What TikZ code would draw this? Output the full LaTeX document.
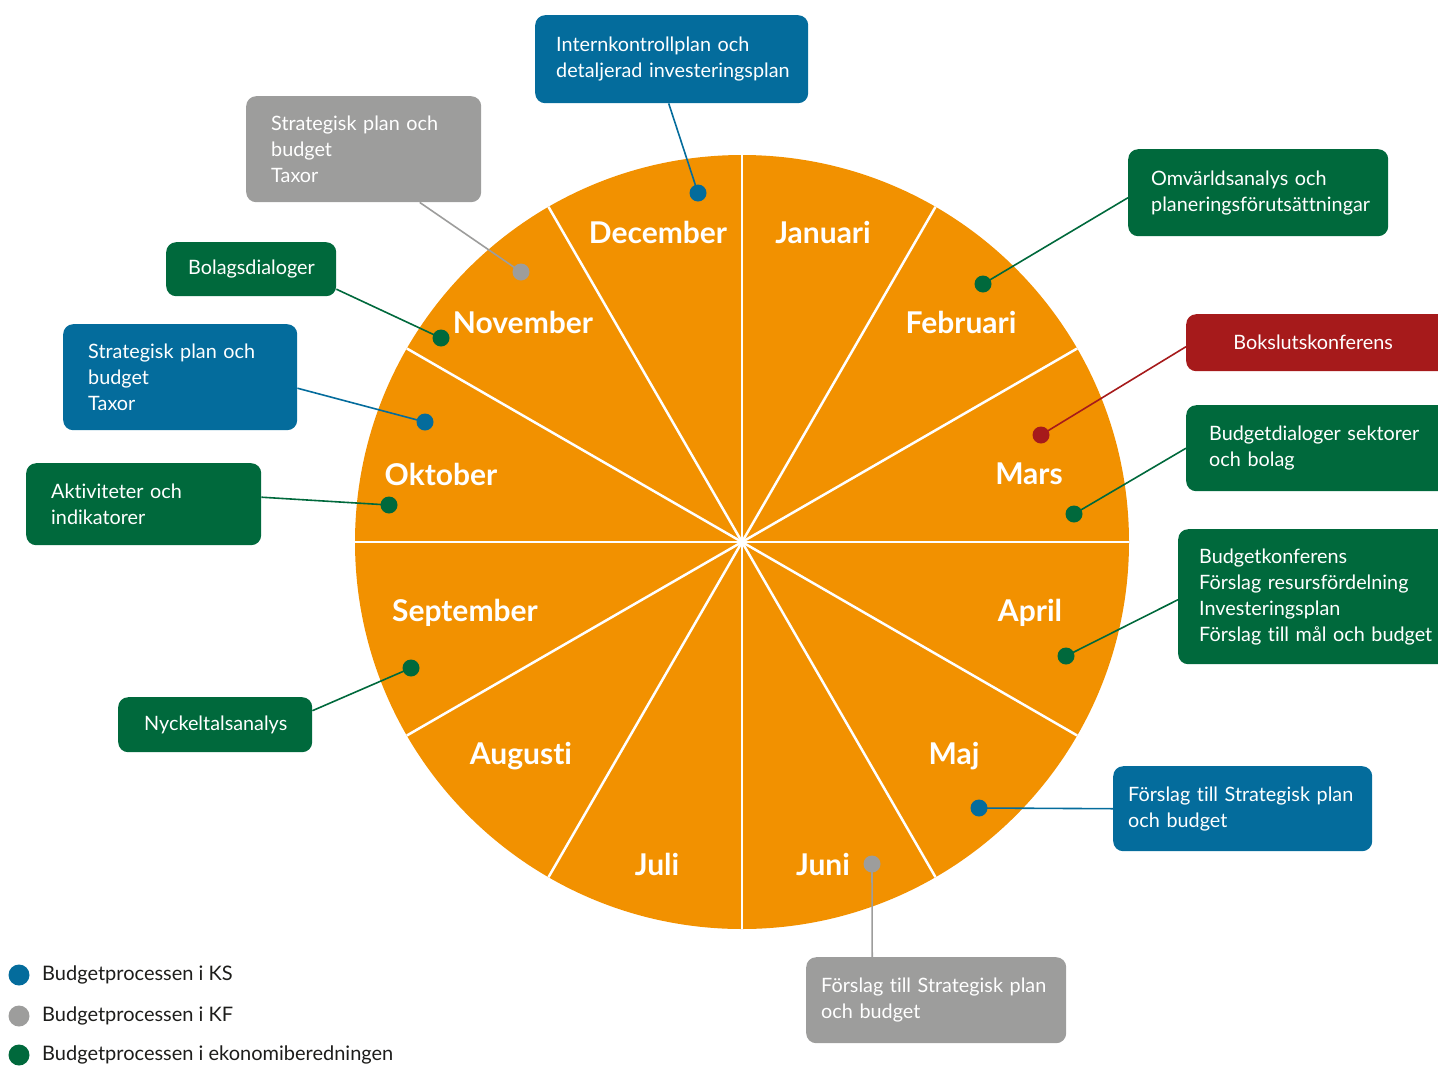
\documentclass[tikz,border=0pt]{standalone}
\usepackage{fontspec}
\setmainfont{Lato}[Ligatures=NoCommon]
\definecolor{wheelor}{HTML}{F29100}
\definecolor{ksblue}{HTML}{046C9C}
\definecolor{kfgrey}{HTML}{9D9D9C}
\definecolor{ekgreen}{HTML}{00693C}
\definecolor{bokred}{HTML}{A61A1B}
\definecolor{legtext}{HTML}{1D1D1B}
\newcommand{\bxl}[1]{\mbox{#1}}
\tikzset{
  infobox/.style={rounded corners=10pt, text=white, anchor=north west, align=left,
    font=\fontsize{19.8}{26}\selectfont, inner ysep=0pt},
  month/.style={text=white, font=\fontsize{30}{32}\selectfont\bfseries},
  evdot/.style={circle, inner sep=0pt, minimum size=17pt},
  conn/.style={line width=1.6pt},
  sector/.style={white, line width=2.5pt},
  legdot/.style={circle, inner sep=0pt, minimum size=21pt},
  legtxt/.style={anchor=west, text=legtext, font=\fontsize{20}{22}\selectfont, inner sep=0pt}
}
\begin{document}
\begin{tikzpicture}[x=1pt,y=-1pt]
\useasboundingbox (0,0) rectangle (1438,1066);
\coordinate (c) at (742,542);
\fill[wheelor] (c) circle (387pt);
\foreach \a in {0,30,...,150} {
  \draw[sector] (c) ++(\a:387pt) -- ++(\a+180:774pt);
}
% month labels
\node[month] (m1) at (823,232) {Januari};
\node[month] (m2) at (961,322) {Februari};
\node[month] (m3) at (1029,474) {Mars};
\node[month] (m4) at (1030,613) {April};
\node[month] (m5) at (954,756) {Maj};
\node[month] (m6) at (823,864) {Juni};
\node[month] (m7) at (657,864) {Juli};
\node[month] (m8) at (521,756) {Augusti};
\node[month] (m9) at (465,613) {September};
\node[month] (m10) at (441,474) {Oktober};
\node[month] (m11) at (523,322) {November};
\node[month] (m12) at (658,232) {December};
% boxes
\node[infobox, fill=ksblue, minimum width=273pt, minimum height=88pt, text width=231pt, inner xsep=21pt] (b1) at (535,15) {\bxl{Internkontrollplan och}\\\bxl{detaljerad investeringsplan}};
\node[infobox, fill=kfgrey, minimum width=235pt, minimum height=106pt, text width=185pt, inner xsep=25pt] (b2) at (246,96) {\bxl{Strategisk plan och}\\budget\\Taxor};
\node[infobox, fill=ekgreen, minimum width=170pt, minimum height=54pt, text width=126pt, inner xsep=22pt] (b3) at (166,242) {\bxl{Bolagsdialoger}};
\node[infobox, fill=ksblue, minimum width=234pt, minimum height=106pt, text width=184pt, inner xsep=25pt] (b4) at (63,324) {\bxl{Strategisk plan och}\\budget\\Taxor};
\node[infobox, fill=ekgreen, minimum width=235pt, minimum height=82pt, text width=185pt, inner xsep=25pt] (b5) at (26,463) {\bxl{Aktiviteter och}\\indikatorer};
\node[infobox, fill=ekgreen, minimum width=194pt, minimum height=55pt, text width=142pt, inner xsep=26pt] (b6) at (118,697) {\bxl{Nyckeltalsanalys}};
\node[infobox, fill=ekgreen, minimum width=260pt, minimum height=87pt, text width=214pt, inner xsep=23pt] (b7) at (1128,149) {\bxl{Omvärldsanalys och}\\\bxl{planeringsförutsättningar}};
\node[infobox, fill=bokred, minimum width=262pt, minimum height=57pt, text width=242pt, inner xsep=10pt, align=center] (b8) at (1186,314) {\hspace*{-8pt}\bxl{Bokslutskonferens}};
\node[infobox, fill=ekgreen, minimum width=262pt, minimum height=86pt, text width=216pt, inner xsep=23pt] (b9) at (1186,405) {\bxl{Budgetdialoger sektorer}\\\bxl{och bolag}};
\node[infobox, fill=ekgreen, minimum width=270pt, minimum height=135pt, text width=228pt, inner xsep=21pt] (b10) at (1178,529) {\bxl{Budgetkonferens}\\\bxl{Förslag resursfördelning}\\\bxl{Investeringsplan}\\\bxl{Förslag till mål och budget}};
\node[infobox, fill=ksblue, minimum width=259pt, minimum height=85pt, text width=229pt, inner xsep=15pt] (b11) at (1113,766) {\bxl{Förslag till Strategisk plan}\\\bxl{och budget}};
\node[infobox, fill=kfgrey, minimum width=260pt, minimum height=86pt, text width=230pt, inner xsep=15pt] (b12) at (806,957) {\bxl{Förslag till Strategisk plan}\\\bxl{och budget}};
% event dots
\node[evdot, fill=ksblue] (d1) at (698,193) {};
\node[evdot, fill=kfgrey] (d2) at (521,272) {};
\node[evdot, fill=ekgreen] (d3) at (441,338) {};
\node[evdot, fill=ksblue] (d4) at (425,422) {};
\node[evdot, fill=ekgreen] (d5) at (389,505) {};
\node[evdot, fill=ekgreen] (d6) at (411,668) {};
\node[evdot, fill=ekgreen] (d7) at (983,284) {};
\node[evdot, fill=bokred] (d8) at (1041,435) {};
\node[evdot, fill=ekgreen] (d9) at (1074,514) {};
\node[evdot, fill=ekgreen] (d10) at (1066,656) {};
\node[evdot, fill=ksblue] (d11) at (979,808) {};
\node[evdot, fill=kfgrey] (d12) at (872,864) {};
% connectors
\draw[conn, ksblue] ([xshift=-3pt]b1.south) -- (d1.center);
\draw[conn, kfgrey] ([xshift=56pt]b2.south) -- (d2.center);
\draw[conn, ekgreen] ([yshift=-20pt]b3.east) -- (d3.center);
\draw[conn, ksblue] ([yshift=-11pt]b4.east) -- (d4.center);
\draw[conn, ekgreen] ([yshift=7pt]b5.east) -- (d5.center);
\draw[conn, ekgreen] ([yshift=14pt]b6.east) -- (d6.center);
\draw[conn, ekgreen] ([yshift=-5pt]b7.west) -- (d7.center);
\draw[conn, bokred] ([yshift=-4pt]b8.west) -- (d8.center);
\draw[conn, ekgreen] (b9.west) -- (d9.center);
\draw[conn, ekgreen] ([yshift=-3pt]b10.west) -- (d10.center);
\draw[conn, ksblue] (b11.west) -- (d11.center);
\draw[conn, kfgrey] ([xshift=-64pt]b12.north) -- (d12.center);
% legend
\node[legdot, fill=ksblue] (l1) at (19,975) {};
\node[legdot, fill=kfgrey] (l2) at (19,1016) {};
\node[legdot, fill=ekgreen] (l3) at (19,1055) {};
\node[legtxt] (t1) at (42,975) {Budgetprocessen i KS};
\node[legtxt] (t2) at (42,1016) {Budgetprocessen i KF};
\node[legtxt] (t3) at (42,1055) {Budgetprocessen i ekonomiberedningen};
\end{tikzpicture}
\end{document}
